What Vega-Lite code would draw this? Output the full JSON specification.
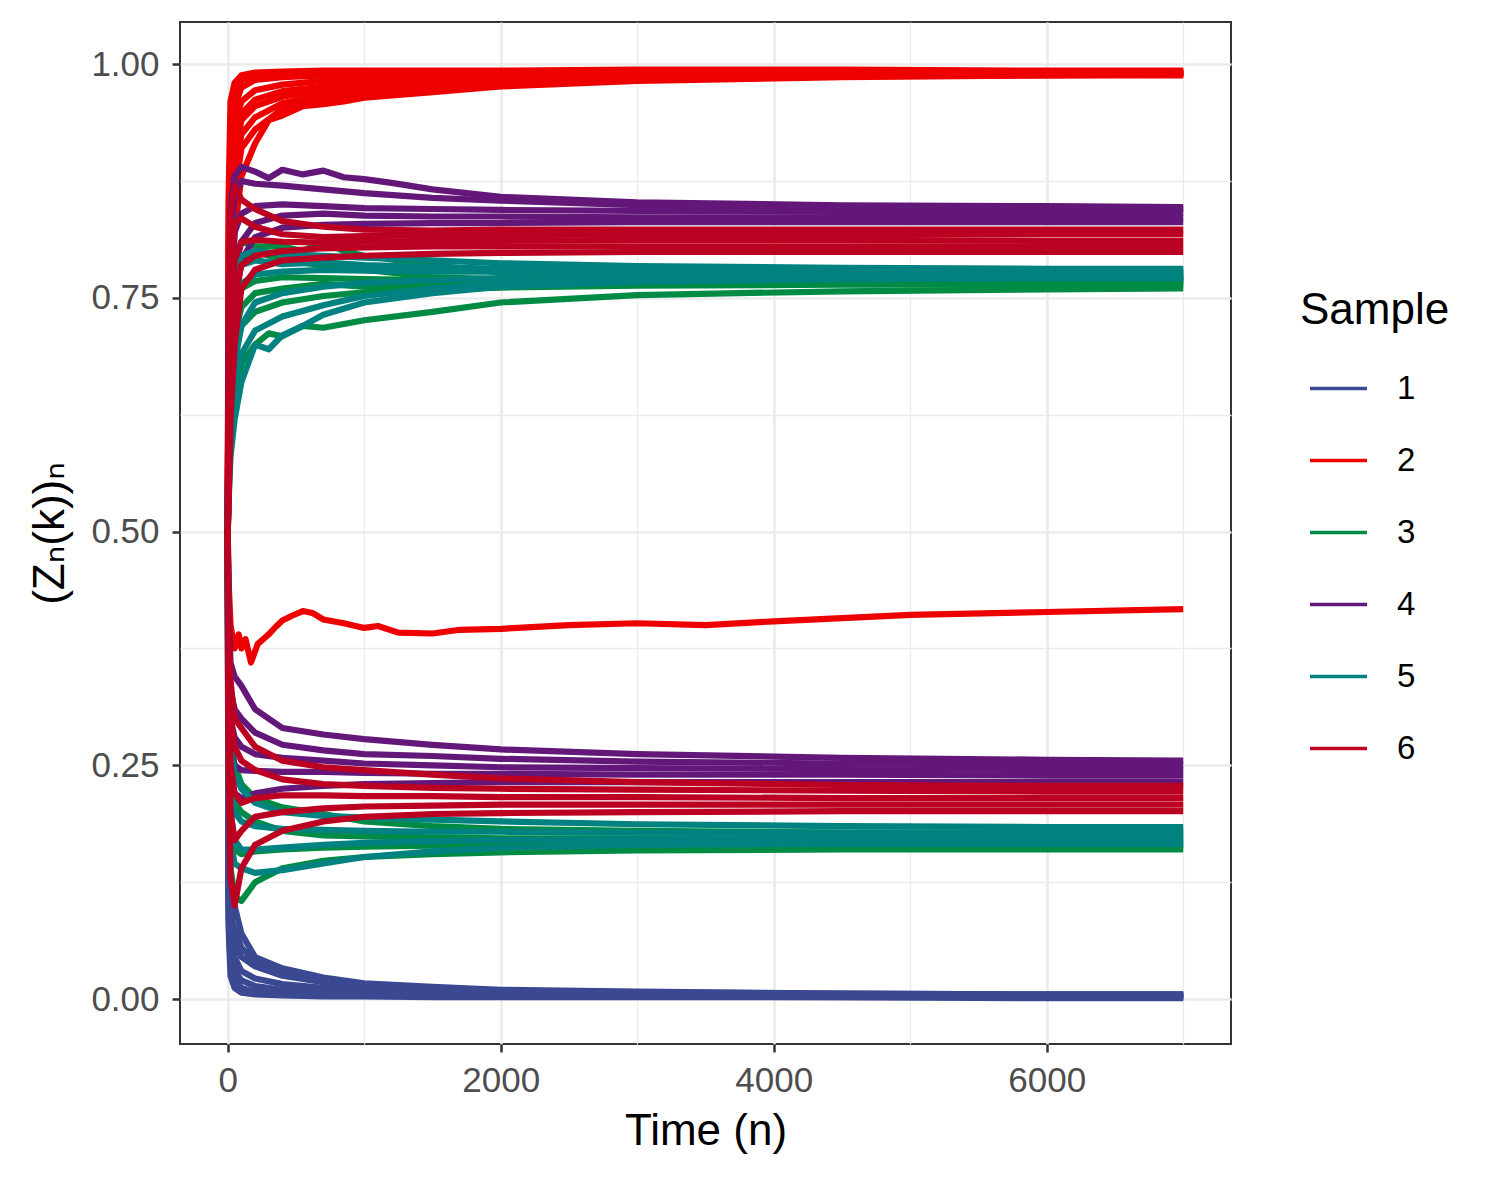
{
  "$schema": "https://vega.github.io/schema/vega-lite/v6.json",
  "width": 1051,
  "height": 1022,
  "autosize": {"type": "none"},
  "padding": {"left": 180, "top": 22, "right": 269, "bottom": 136},
  "background": "white",
  "config": {
    "font": "Liberation Sans, DejaVu Sans, sans-serif",
    "view": {"stroke": "#333333", "strokeWidth": 2}
  },
  "data": {
    "values": [
      {"s":"1","g":"b1","n":0,"z":0.5},{"s":"1","g":"b1","n":5,"z":0.2},{"s":"1","g":"b1","n":20,"z":0.1},{"s":"1","g":"b1","n":50,"z":0.06},{"s":"1","g":"b1","n":100,"z":0.045},{"s":"1","g":"b1","n":200,"z":0.035},{"s":"1","g":"b1","n":400,"z":0.025},{"s":"1","g":"b1","n":700,"z":0.018},{"s":"1","g":"b1","n":1000,"z":0.014},{"s":"1","g":"b1","n":1500,"z":0.011},{"s":"1","g":"b1","n":2000,"z":0.009},{"s":"1","g":"b1","n":3000,"z":0.007},{"s":"1","g":"b1","n":4500,"z":0.006},{"s":"1","g":"b1","n":6000,"z":0.005},{"s":"1","g":"b1","n":7000,"z":0.005},
      {"s":"1","g":"b2","n":0,"z":0.5},{"s":"1","g":"b2","n":5,"z":0.15},{"s":"1","g":"b2","n":20,"z":0.07},{"s":"1","g":"b2","n":50,"z":0.045},{"s":"1","g":"b2","n":100,"z":0.03},{"s":"1","g":"b2","n":200,"z":0.022},{"s":"1","g":"b2","n":400,"z":0.016},{"s":"1","g":"b2","n":700,"z":0.012},{"s":"1","g":"b2","n":1000,"z":0.01},{"s":"1","g":"b2","n":1500,"z":0.008},{"s":"1","g":"b2","n":2000,"z":0.007},{"s":"1","g":"b2","n":3000,"z":0.006},{"s":"1","g":"b2","n":4500,"z":0.005},{"s":"1","g":"b2","n":6000,"z":0.004},{"s":"1","g":"b2","n":7000,"z":0.004},
      {"s":"1","g":"b3","n":0,"z":0.5},{"s":"1","g":"b3","n":5,"z":0.12},{"s":"1","g":"b3","n":20,"z":0.05},{"s":"1","g":"b3","n":50,"z":0.03},{"s":"1","g":"b3","n":100,"z":0.02},{"s":"1","g":"b3","n":200,"z":0.014},{"s":"1","g":"b3","n":400,"z":0.01},{"s":"1","g":"b3","n":700,"z":0.008},{"s":"1","g":"b3","n":1000,"z":0.007},{"s":"1","g":"b3","n":1500,"z":0.006},{"s":"1","g":"b3","n":2000,"z":0.005},{"s":"1","g":"b3","n":3000,"z":0.004},{"s":"1","g":"b3","n":4500,"z":0.004},{"s":"1","g":"b3","n":6000,"z":0.003},{"s":"1","g":"b3","n":7000,"z":0.003},
      {"s":"1","g":"b4","n":0,"z":0.5},{"s":"1","g":"b4","n":5,"z":0.1},{"s":"1","g":"b4","n":20,"z":0.035},{"s":"1","g":"b4","n":50,"z":0.02},{"s":"1","g":"b4","n":100,"z":0.012},{"s":"1","g":"b4","n":200,"z":0.008},{"s":"1","g":"b4","n":400,"z":0.006},{"s":"1","g":"b4","n":700,"z":0.005},{"s":"1","g":"b4","n":1000,"z":0.004},{"s":"1","g":"b4","n":1500,"z":0.004},{"s":"1","g":"b4","n":2000,"z":0.003},{"s":"1","g":"b4","n":3000,"z":0.003},{"s":"1","g":"b4","n":4500,"z":0.002},{"s":"1","g":"b4","n":6000,"z":0.002},{"s":"1","g":"b4","n":7000,"z":0.002},
      {"s":"1","g":"b5","n":0,"z":0.5},{"s":"1","g":"b5","n":5,"z":0.08},{"s":"1","g":"b5","n":20,"z":0.025},{"s":"1","g":"b5","n":50,"z":0.012},{"s":"1","g":"b5","n":100,"z":0.007},{"s":"1","g":"b5","n":200,"z":0.005},{"s":"1","g":"b5","n":400,"z":0.004},{"s":"1","g":"b5","n":700,"z":0.003},{"s":"1","g":"b5","n":1000,"z":0.003},{"s":"1","g":"b5","n":1500,"z":0.002},{"s":"1","g":"b5","n":2000,"z":0.002},{"s":"1","g":"b5","n":3000,"z":0.002},{"s":"1","g":"b5","n":4500,"z":0.002},{"s":"1","g":"b5","n":6000,"z":0.001},{"s":"1","g":"b5","n":7000,"z":0.001},
      {"s":"1","g":"b6","n":0,"z":0.5},{"s":"1","g":"b6","n":5,"z":0.25},{"s":"1","g":"b6","n":20,"z":0.13},{"s":"1","g":"b6","n":50,"z":0.1},{"s":"1","g":"b6","n":100,"z":0.07},{"s":"1","g":"b6","n":200,"z":0.045},{"s":"1","g":"b6","n":400,"z":0.033},{"s":"1","g":"b6","n":700,"z":0.023},{"s":"1","g":"b6","n":1000,"z":0.017},{"s":"1","g":"b6","n":1500,"z":0.013},{"s":"1","g":"b6","n":2000,"z":0.01},{"s":"1","g":"b6","n":3000,"z":0.008},{"s":"1","g":"b6","n":4500,"z":0.006},{"s":"1","g":"b6","n":6000,"z":0.005},{"s":"1","g":"b6","n":7000,"z":0.005},
      {"s":"1","g":"b7","n":0,"z":0.5},{"s":"1","g":"b7","n":5,"z":0.18},{"s":"1","g":"b7","n":20,"z":0.085},{"s":"1","g":"b7","n":50,"z":0.075},{"s":"1","g":"b7","n":100,"z":0.055},{"s":"1","g":"b7","n":200,"z":0.04},{"s":"1","g":"b7","n":400,"z":0.028},{"s":"1","g":"b7","n":700,"z":0.02},{"s":"1","g":"b7","n":1000,"z":0.015},{"s":"1","g":"b7","n":1500,"z":0.012},{"s":"1","g":"b7","n":2000,"z":0.009},{"s":"1","g":"b7","n":3000,"z":0.007},{"s":"1","g":"b7","n":4500,"z":0.005},{"s":"1","g":"b7","n":6000,"z":0.004},{"s":"1","g":"b7","n":7000,"z":0.004},

      {"s":"2","g":"r1","n":0,"z":0.5},{"s":"2","g":"r1","n":5,"z":0.85},{"s":"2","g":"r1","n":20,"z":0.96},{"s":"2","g":"r1","n":50,"z":0.98},{"s":"2","g":"r1","n":100,"z":0.988},{"s":"2","g":"r1","n":200,"z":0.991},{"s":"2","g":"r1","n":400,"z":0.992},{"s":"2","g":"r1","n":700,"z":0.993},{"s":"2","g":"r1","n":1000,"z":0.993},{"s":"2","g":"r1","n":1500,"z":0.993},{"s":"2","g":"r1","n":2000,"z":0.993},{"s":"2","g":"r1","n":3000,"z":0.994},{"s":"2","g":"r1","n":4500,"z":0.994},{"s":"2","g":"r1","n":6000,"z":0.993},{"s":"2","g":"r1","n":7000,"z":0.993},
      {"s":"2","g":"r2","n":0,"z":0.5},{"s":"2","g":"r2","n":5,"z":0.8},{"s":"2","g":"r2","n":20,"z":0.93},{"s":"2","g":"r2","n":50,"z":0.97},{"s":"2","g":"r2","n":100,"z":0.983},{"s":"2","g":"r2","n":200,"z":0.988},{"s":"2","g":"r2","n":400,"z":0.99},{"s":"2","g":"r2","n":700,"z":0.991},{"s":"2","g":"r2","n":1000,"z":0.991},{"s":"2","g":"r2","n":1500,"z":0.992},{"s":"2","g":"r2","n":2000,"z":0.992},{"s":"2","g":"r2","n":3000,"z":0.992},{"s":"2","g":"r2","n":4500,"z":0.992},{"s":"2","g":"r2","n":6000,"z":0.992},{"s":"2","g":"r2","n":7000,"z":0.992},
      {"s":"2","g":"r3","n":0,"z":0.5},{"s":"2","g":"r3","n":5,"z":0.75},{"s":"2","g":"r3","n":20,"z":0.9},{"s":"2","g":"r3","n":50,"z":0.955},{"s":"2","g":"r3","n":100,"z":0.975},{"s":"2","g":"r3","n":200,"z":0.983},{"s":"2","g":"r3","n":400,"z":0.986},{"s":"2","g":"r3","n":700,"z":0.988},{"s":"2","g":"r3","n":1000,"z":0.989},{"s":"2","g":"r3","n":1500,"z":0.99},{"s":"2","g":"r3","n":2000,"z":0.99},{"s":"2","g":"r3","n":3000,"z":0.991},{"s":"2","g":"r3","n":4500,"z":0.991},{"s":"2","g":"r3","n":6000,"z":0.991},{"s":"2","g":"r3","n":7000,"z":0.991},
      {"s":"2","g":"r4","n":0,"z":0.5},{"s":"2","g":"r4","n":5,"z":0.7},{"s":"2","g":"r4","n":20,"z":0.86},{"s":"2","g":"r4","n":50,"z":0.935},{"s":"2","g":"r4","n":100,"z":0.96},{"s":"2","g":"r4","n":200,"z":0.972},{"s":"2","g":"r4","n":400,"z":0.978},{"s":"2","g":"r4","n":700,"z":0.982},{"s":"2","g":"r4","n":1000,"z":0.984},{"s":"2","g":"r4","n":1500,"z":0.986},{"s":"2","g":"r4","n":2000,"z":0.987},{"s":"2","g":"r4","n":3000,"z":0.989},{"s":"2","g":"r4","n":4500,"z":0.99},{"s":"2","g":"r4","n":6000,"z":0.99},{"s":"2","g":"r4","n":7000,"z":0.99},
      {"s":"2","g":"r10","n":0,"z":0.5},{"s":"2","g":"r10","n":5,"z":0.72},{"s":"2","g":"r10","n":20,"z":0.84},{"s":"2","g":"r10","n":50,"z":0.91},{"s":"2","g":"r10","n":100,"z":0.947},{"s":"2","g":"r10","n":200,"z":0.962},{"s":"2","g":"r10","n":400,"z":0.971},{"s":"2","g":"r10","n":700,"z":0.976},{"s":"2","g":"r10","n":1000,"z":0.98},{"s":"2","g":"r10","n":1500,"z":0.983},{"s":"2","g":"r10","n":2000,"z":0.985},{"s":"2","g":"r10","n":3000,"z":0.988},{"s":"2","g":"r10","n":4500,"z":0.99},{"s":"2","g":"r10","n":6000,"z":0.99},{"s":"2","g":"r10","n":7000,"z":0.99},
      {"s":"2","g":"r5","n":0,"z":0.5},{"s":"2","g":"r5","n":5,"z":0.65},{"s":"2","g":"r5","n":20,"z":0.82},{"s":"2","g":"r5","n":50,"z":0.9},{"s":"2","g":"r5","n":100,"z":0.94},{"s":"2","g":"r5","n":200,"z":0.955},{"s":"2","g":"r5","n":400,"z":0.965},{"s":"2","g":"r5","n":700,"z":0.972},{"s":"2","g":"r5","n":1000,"z":0.976},{"s":"2","g":"r5","n":1500,"z":0.98},{"s":"2","g":"r5","n":2000,"z":0.983},{"s":"2","g":"r5","n":3000,"z":0.986},{"s":"2","g":"r5","n":4500,"z":0.988},{"s":"2","g":"r5","n":6000,"z":0.989},{"s":"2","g":"r5","n":7000,"z":0.989},
      {"s":"2","g":"r6","n":0,"z":0.5},{"s":"2","g":"r6","n":5,"z":0.6},{"s":"2","g":"r6","n":20,"z":0.76},{"s":"2","g":"r6","n":50,"z":0.86},{"s":"2","g":"r6","n":100,"z":0.91},{"s":"2","g":"r6","n":200,"z":0.93},{"s":"2","g":"r6","n":400,"z":0.952},{"s":"2","g":"r6","n":700,"z":0.962},{"s":"2","g":"r6","n":1000,"z":0.967},{"s":"2","g":"r6","n":1500,"z":0.973},{"s":"2","g":"r6","n":2000,"z":0.978},{"s":"2","g":"r6","n":3000,"z":0.983},{"s":"2","g":"r6","n":4500,"z":0.987},{"s":"2","g":"r6","n":6000,"z":0.988},{"s":"2","g":"r6","n":7000,"z":0.988},
      {"s":"2","g":"r7","n":0,"z":0.5},{"s":"2","g":"r7","n":5,"z":0.62},{"s":"2","g":"r7","n":20,"z":0.72},{"s":"2","g":"r7","n":50,"z":0.82},{"s":"2","g":"r7","n":100,"z":0.88},{"s":"2","g":"r7","n":200,"z":0.915},{"s":"2","g":"r7","n":300,"z":0.94},{"s":"2","g":"r7","n":400,"z":0.945},{"s":"2","g":"r7","n":550,"z":0.955},{"s":"2","g":"r7","n":700,"z":0.957},{"s":"2","g":"r7","n":850,"z":0.96},{"s":"2","g":"r7","n":1000,"z":0.964},{"s":"2","g":"r7","n":1500,"z":0.97},{"s":"2","g":"r7","n":2000,"z":0.976},{"s":"2","g":"r7","n":3000,"z":0.982},{"s":"2","g":"r7","n":4500,"z":0.986},{"s":"2","g":"r7","n":6000,"z":0.988},{"s":"2","g":"r7","n":7000,"z":0.989},
      {"s":"2","g":"r9","n":0,"z":0.5},{"s":"2","g":"r9","n":5,"z":0.68},{"s":"2","g":"r9","n":20,"z":0.8},{"s":"2","g":"r9","n":50,"z":0.88},{"s":"2","g":"r9","n":100,"z":0.925},{"s":"2","g":"r9","n":200,"z":0.943},{"s":"2","g":"r9","n":400,"z":0.958},{"s":"2","g":"r9","n":700,"z":0.967},{"s":"2","g":"r9","n":1000,"z":0.971},{"s":"2","g":"r9","n":1500,"z":0.977},{"s":"2","g":"r9","n":2000,"z":0.98},{"s":"2","g":"r9","n":3000,"z":0.985},{"s":"2","g":"r9","n":4500,"z":0.988},{"s":"2","g":"r9","n":6000,"z":0.989},{"s":"2","g":"r9","n":7000,"z":0.99},
      {"s":"2","g":"r8","n":0,"z":0.5},{"s":"2","g":"r8","n":5,"z":0.45},{"s":"2","g":"r8","n":20,"z":0.4},{"s":"2","g":"r8","n":50,"z":0.375},{"s":"2","g":"r8","n":80,"z":0.39},{"s":"2","g":"r8","n":100,"z":0.375},{"s":"2","g":"r8","n":130,"z":0.385},{"s":"2","g":"r8","n":170,"z":0.36},{"s":"2","g":"r8","n":220,"z":0.38},{"s":"2","g":"r8","n":300,"z":0.39},{"s":"2","g":"r8","n":350,"z":0.398},{"s":"2","g":"r8","n":400,"z":0.405},{"s":"2","g":"r8","n":470,"z":0.41},{"s":"2","g":"r8","n":550,"z":0.415},{"s":"2","g":"r8","n":620,"z":0.413},{"s":"2","g":"r8","n":700,"z":0.406},{"s":"2","g":"r8","n":850,"z":0.402},{"s":"2","g":"r8","n":1000,"z":0.397},{"s":"2","g":"r8","n":1100,"z":0.399},{"s":"2","g":"r8","n":1250,"z":0.392},{"s":"2","g":"r8","n":1500,"z":0.391},{"s":"2","g":"r8","n":1700,"z":0.395},{"s":"2","g":"r8","n":2000,"z":0.396},{"s":"2","g":"r8","n":2500,"z":0.4},{"s":"2","g":"r8","n":3000,"z":0.402},{"s":"2","g":"r8","n":3500,"z":0.4},{"s":"2","g":"r8","n":4000,"z":0.404},{"s":"2","g":"r8","n":5000,"z":0.411},{"s":"2","g":"r8","n":6000,"z":0.414},{"s":"2","g":"r8","n":7000,"z":0.417},

      {"s":"3","g":"g1","n":0,"z":0.5},{"s":"3","g":"g1","n":5,"z":0.63},{"s":"3","g":"g1","n":20,"z":0.75},{"s":"3","g":"g1","n":50,"z":0.79},{"s":"3","g":"g1","n":100,"z":0.81},{"s":"3","g":"g1","n":200,"z":0.805},{"s":"3","g":"g1","n":400,"z":0.805},{"s":"3","g":"g1","n":550,"z":0.8},{"s":"3","g":"g1","n":700,"z":0.81},{"s":"3","g":"g1","n":850,"z":0.8},{"s":"3","g":"g1","n":1000,"z":0.795},{"s":"3","g":"g1","n":1500,"z":0.785},{"s":"3","g":"g1","n":2000,"z":0.777},{"s":"3","g":"g1","n":3000,"z":0.773},{"s":"3","g":"g1","n":4500,"z":0.772},{"s":"3","g":"g1","n":6000,"z":0.772},{"s":"3","g":"g1","n":7000,"z":0.772},
      {"s":"3","g":"g6","n":0,"z":0.5},{"s":"3","g":"g6","n":5,"z":0.6},{"s":"3","g":"g6","n":20,"z":0.72},{"s":"3","g":"g6","n":50,"z":0.77},{"s":"3","g":"g6","n":100,"z":0.79},{"s":"3","g":"g6","n":200,"z":0.8},{"s":"3","g":"g6","n":400,"z":0.79},{"s":"3","g":"g6","n":700,"z":0.785},{"s":"3","g":"g6","n":1000,"z":0.78},{"s":"3","g":"g6","n":1500,"z":0.772},{"s":"3","g":"g6","n":2000,"z":0.77},{"s":"3","g":"g6","n":3000,"z":0.769},{"s":"3","g":"g6","n":4500,"z":0.769},{"s":"3","g":"g6","n":6000,"z":0.769},{"s":"3","g":"g6","n":7000,"z":0.769},
      {"s":"3","g":"g2","n":0,"z":0.5},{"s":"3","g":"g2","n":5,"z":0.59},{"s":"3","g":"g2","n":20,"z":0.69},{"s":"3","g":"g2","n":50,"z":0.74},{"s":"3","g":"g2","n":100,"z":0.76},{"s":"3","g":"g2","n":200,"z":0.768},{"s":"3","g":"g2","n":400,"z":0.772},{"s":"3","g":"g2","n":700,"z":0.771},{"s":"3","g":"g2","n":1000,"z":0.77},{"s":"3","g":"g2","n":1500,"z":0.769},{"s":"3","g":"g2","n":2000,"z":0.768},{"s":"3","g":"g2","n":3000,"z":0.768},{"s":"3","g":"g2","n":4500,"z":0.768},{"s":"3","g":"g2","n":6000,"z":0.768},{"s":"3","g":"g2","n":7000,"z":0.768},
      {"s":"3","g":"g5","n":0,"z":0.5},{"s":"3","g":"g5","n":5,"z":0.57},{"s":"3","g":"g5","n":20,"z":0.66},{"s":"3","g":"g5","n":50,"z":0.71},{"s":"3","g":"g5","n":100,"z":0.74},{"s":"3","g":"g5","n":200,"z":0.755},{"s":"3","g":"g5","n":400,"z":0.76},{"s":"3","g":"g5","n":700,"z":0.765},{"s":"3","g":"g5","n":1000,"z":0.762},{"s":"3","g":"g5","n":1500,"z":0.764},{"s":"3","g":"g5","n":2000,"z":0.765},{"s":"3","g":"g5","n":3000,"z":0.766},{"s":"3","g":"g5","n":4500,"z":0.766},{"s":"3","g":"g5","n":6000,"z":0.766},{"s":"3","g":"g5","n":7000,"z":0.766},
      {"s":"3","g":"g3","n":0,"z":0.5},{"s":"3","g":"g3","n":5,"z":0.56},{"s":"3","g":"g3","n":20,"z":0.64},{"s":"3","g":"g3","n":50,"z":0.69},{"s":"3","g":"g3","n":100,"z":0.72},{"s":"3","g":"g3","n":200,"z":0.735},{"s":"3","g":"g3","n":400,"z":0.745},{"s":"3","g":"g3","n":700,"z":0.752},{"s":"3","g":"g3","n":1000,"z":0.756},{"s":"3","g":"g3","n":1500,"z":0.759},{"s":"3","g":"g3","n":2000,"z":0.761},{"s":"3","g":"g3","n":3000,"z":0.763},{"s":"3","g":"g3","n":4500,"z":0.764},{"s":"3","g":"g3","n":6000,"z":0.764},{"s":"3","g":"g3","n":7000,"z":0.764},
      {"s":"3","g":"g4","n":0,"z":0.5},{"s":"3","g":"g4","n":5,"z":0.54},{"s":"3","g":"g4","n":20,"z":0.6},{"s":"3","g":"g4","n":50,"z":0.64},{"s":"3","g":"g4","n":100,"z":0.68},{"s":"3","g":"g4","n":200,"z":0.7},{"s":"3","g":"g4","n":300,"z":0.712},{"s":"3","g":"g4","n":400,"z":0.709},{"s":"3","g":"g4","n":550,"z":0.72},{"s":"3","g":"g4","n":700,"z":0.718},{"s":"3","g":"g4","n":850,"z":0.722},{"s":"3","g":"g4","n":1000,"z":0.726},{"s":"3","g":"g4","n":1500,"z":0.735},{"s":"3","g":"g4","n":2000,"z":0.745},{"s":"3","g":"g4","n":3000,"z":0.753},{"s":"3","g":"g4","n":4500,"z":0.757},{"s":"3","g":"g4","n":6000,"z":0.759},{"s":"3","g":"g4","n":7000,"z":0.76},
      {"s":"3","g":"v1","n":0,"z":0.5},{"s":"3","g":"v1","n":5,"z":0.38},{"s":"3","g":"v1","n":20,"z":0.28},{"s":"3","g":"v1","n":50,"z":0.25},{"s":"3","g":"v1","n":100,"z":0.23},{"s":"3","g":"v1","n":200,"z":0.215},{"s":"3","g":"v1","n":400,"z":0.205},{"s":"3","g":"v1","n":700,"z":0.198},{"s":"3","g":"v1","n":1000,"z":0.19},{"s":"3","g":"v1","n":1500,"z":0.185},{"s":"3","g":"v1","n":2000,"z":0.182},{"s":"3","g":"v1","n":3000,"z":0.18},{"s":"3","g":"v1","n":4500,"z":0.178},{"s":"3","g":"v1","n":6000,"z":0.178},{"s":"3","g":"v1","n":7000,"z":0.178},
      {"s":"3","g":"v2","n":0,"z":0.5},{"s":"3","g":"v2","n":5,"z":0.33},{"s":"3","g":"v2","n":20,"z":0.24},{"s":"3","g":"v2","n":50,"z":0.21},{"s":"3","g":"v2","n":100,"z":0.2},{"s":"3","g":"v2","n":200,"z":0.19},{"s":"3","g":"v2","n":400,"z":0.18},{"s":"3","g":"v2","n":700,"z":0.175},{"s":"3","g":"v2","n":1000,"z":0.174},{"s":"3","g":"v2","n":1500,"z":0.173},{"s":"3","g":"v2","n":2000,"z":0.172},{"s":"3","g":"v2","n":3000,"z":0.172},{"s":"3","g":"v2","n":4500,"z":0.172},{"s":"3","g":"v2","n":6000,"z":0.171},{"s":"3","g":"v2","n":7000,"z":0.171},
      {"s":"3","g":"v3","n":0,"z":0.5},{"s":"3","g":"v3","n":5,"z":0.28},{"s":"3","g":"v3","n":20,"z":0.19},{"s":"3","g":"v3","n":50,"z":0.16},{"s":"3","g":"v3","n":100,"z":0.155},{"s":"3","g":"v3","n":200,"z":0.158},{"s":"3","g":"v3","n":400,"z":0.16},{"s":"3","g":"v3","n":700,"z":0.162},{"s":"3","g":"v3","n":1000,"z":0.163},{"s":"3","g":"v3","n":1500,"z":0.164},{"s":"3","g":"v3","n":2000,"z":0.165},{"s":"3","g":"v3","n":3000,"z":0.166},{"s":"3","g":"v3","n":4500,"z":0.166},{"s":"3","g":"v3","n":6000,"z":0.165},{"s":"3","g":"v3","n":7000,"z":0.165},
      {"s":"3","g":"v4","n":0,"z":0.5},{"s":"3","g":"v4","n":5,"z":0.24},{"s":"3","g":"v4","n":20,"z":0.14},{"s":"3","g":"v4","n":50,"z":0.11},{"s":"3","g":"v4","n":100,"z":0.105},{"s":"3","g":"v4","n":200,"z":0.125},{"s":"3","g":"v4","n":400,"z":0.14},{"s":"3","g":"v4","n":700,"z":0.148},{"s":"3","g":"v4","n":1000,"z":0.152},{"s":"3","g":"v4","n":1500,"z":0.155},{"s":"3","g":"v4","n":2000,"z":0.157},{"s":"3","g":"v4","n":3000,"z":0.159},{"s":"3","g":"v4","n":4500,"z":0.16},{"s":"3","g":"v4","n":6000,"z":0.16},{"s":"3","g":"v4","n":7000,"z":0.16},

      {"s":"4","g":"p1","n":0,"z":0.5},{"s":"4","g":"p1","n":5,"z":0.7},{"s":"4","g":"p1","n":20,"z":0.85},{"s":"4","g":"p1","n":50,"z":0.88},{"s":"4","g":"p1","n":100,"z":0.89},{"s":"4","g":"p1","n":200,"z":0.885},{"s":"4","g":"p1","n":300,"z":0.878},{"s":"4","g":"p1","n":400,"z":0.887},{"s":"4","g":"p1","n":550,"z":0.882},{"s":"4","g":"p1","n":700,"z":0.886},{"s":"4","g":"p1","n":850,"z":0.879},{"s":"4","g":"p1","n":1000,"z":0.877},{"s":"4","g":"p1","n":1200,"z":0.873},{"s":"4","g":"p1","n":1500,"z":0.866},{"s":"4","g":"p1","n":2000,"z":0.858},{"s":"4","g":"p1","n":3000,"z":0.852},{"s":"4","g":"p1","n":4500,"z":0.849},{"s":"4","g":"p1","n":6000,"z":0.848},{"s":"4","g":"p1","n":7000,"z":0.847},
      {"s":"4","g":"p2","n":0,"z":0.5},{"s":"4","g":"p2","n":5,"z":0.65},{"s":"4","g":"p2","n":20,"z":0.8},{"s":"4","g":"p2","n":50,"z":0.86},{"s":"4","g":"p2","n":100,"z":0.875},{"s":"4","g":"p2","n":200,"z":0.872},{"s":"4","g":"p2","n":400,"z":0.87},{"s":"4","g":"p2","n":700,"z":0.866},{"s":"4","g":"p2","n":1000,"z":0.862},{"s":"4","g":"p2","n":1500,"z":0.857},{"s":"4","g":"p2","n":2000,"z":0.854},{"s":"4","g":"p2","n":3000,"z":0.849},{"s":"4","g":"p2","n":4500,"z":0.846},{"s":"4","g":"p2","n":6000,"z":0.845},{"s":"4","g":"p2","n":7000,"z":0.845},
      {"s":"4","g":"p3","n":0,"z":0.5},{"s":"4","g":"p3","n":5,"z":0.6},{"s":"4","g":"p3","n":20,"z":0.75},{"s":"4","g":"p3","n":50,"z":0.82},{"s":"4","g":"p3","n":100,"z":0.84},{"s":"4","g":"p3","n":200,"z":0.848},{"s":"4","g":"p3","n":400,"z":0.85},{"s":"4","g":"p3","n":700,"z":0.848},{"s":"4","g":"p3","n":1000,"z":0.846},{"s":"4","g":"p3","n":1500,"z":0.845},{"s":"4","g":"p3","n":2000,"z":0.844},{"s":"4","g":"p3","n":3000,"z":0.843},{"s":"4","g":"p3","n":4500,"z":0.842},{"s":"4","g":"p3","n":6000,"z":0.841},{"s":"4","g":"p3","n":7000,"z":0.841},
      {"s":"4","g":"p4","n":0,"z":0.5},{"s":"4","g":"p4","n":5,"z":0.58},{"s":"4","g":"p4","n":20,"z":0.7},{"s":"4","g":"p4","n":50,"z":0.78},{"s":"4","g":"p4","n":100,"z":0.81},{"s":"4","g":"p4","n":200,"z":0.83},{"s":"4","g":"p4","n":400,"z":0.838},{"s":"4","g":"p4","n":700,"z":0.84},{"s":"4","g":"p4","n":1000,"z":0.838},{"s":"4","g":"p4","n":1500,"z":0.837},{"s":"4","g":"p4","n":2000,"z":0.837},{"s":"4","g":"p4","n":3000,"z":0.836},{"s":"4","g":"p4","n":4500,"z":0.836},{"s":"4","g":"p4","n":6000,"z":0.836},{"s":"4","g":"p4","n":7000,"z":0.836},
      {"s":"4","g":"p5","n":0,"z":0.5},{"s":"4","g":"p5","n":5,"z":0.55},{"s":"4","g":"p5","n":20,"z":0.66},{"s":"4","g":"p5","n":50,"z":0.74},{"s":"4","g":"p5","n":100,"z":0.79},{"s":"4","g":"p5","n":200,"z":0.815},{"s":"4","g":"p5","n":400,"z":0.825},{"s":"4","g":"p5","n":700,"z":0.828},{"s":"4","g":"p5","n":1000,"z":0.829},{"s":"4","g":"p5","n":1500,"z":0.83},{"s":"4","g":"p5","n":2000,"z":0.83},{"s":"4","g":"p5","n":3000,"z":0.831},{"s":"4","g":"p5","n":4500,"z":0.831},{"s":"4","g":"p5","n":6000,"z":0.831},{"s":"4","g":"p5","n":7000,"z":0.831},
      {"s":"4","g":"q1","n":0,"z":0.5},{"s":"4","g":"q1","n":5,"z":0.42},{"s":"4","g":"q1","n":20,"z":0.36},{"s":"4","g":"q1","n":50,"z":0.345},{"s":"4","g":"q1","n":100,"z":0.335},{"s":"4","g":"q1","n":200,"z":0.31},{"s":"4","g":"q1","n":400,"z":0.29},{"s":"4","g":"q1","n":700,"z":0.283},{"s":"4","g":"q1","n":1000,"z":0.278},{"s":"4","g":"q1","n":1500,"z":0.272},{"s":"4","g":"q1","n":2000,"z":0.267},{"s":"4","g":"q1","n":3000,"z":0.262},{"s":"4","g":"q1","n":4500,"z":0.258},{"s":"4","g":"q1","n":6000,"z":0.256},{"s":"4","g":"q1","n":7000,"z":0.255},
      {"s":"4","g":"q2","n":0,"z":0.5},{"s":"4","g":"q2","n":5,"z":0.4},{"s":"4","g":"q2","n":20,"z":0.33},{"s":"4","g":"q2","n":50,"z":0.31},{"s":"4","g":"q2","n":100,"z":0.3},{"s":"4","g":"q2","n":200,"z":0.285},{"s":"4","g":"q2","n":400,"z":0.272},{"s":"4","g":"q2","n":700,"z":0.266},{"s":"4","g":"q2","n":1000,"z":0.262},{"s":"4","g":"q2","n":1500,"z":0.26},{"s":"4","g":"q2","n":2000,"z":0.257},{"s":"4","g":"q2","n":3000,"z":0.254},{"s":"4","g":"q2","n":4500,"z":0.252},{"s":"4","g":"q2","n":6000,"z":0.251},{"s":"4","g":"q2","n":7000,"z":0.25},
      {"s":"4","g":"q3","n":0,"z":0.5},{"s":"4","g":"q3","n":5,"z":0.37},{"s":"4","g":"q3","n":20,"z":0.3},{"s":"4","g":"q3","n":50,"z":0.28},{"s":"4","g":"q3","n":100,"z":0.27},{"s":"4","g":"q3","n":200,"z":0.262},{"s":"4","g":"q3","n":400,"z":0.258},{"s":"4","g":"q3","n":700,"z":0.255},{"s":"4","g":"q3","n":1000,"z":0.252},{"s":"4","g":"q3","n":1500,"z":0.25},{"s":"4","g":"q3","n":2000,"z":0.248},{"s":"4","g":"q3","n":3000,"z":0.247},{"s":"4","g":"q3","n":4500,"z":0.246},{"s":"4","g":"q3","n":6000,"z":0.245},{"s":"4","g":"q3","n":7000,"z":0.245},
      {"s":"4","g":"q4","n":0,"z":0.5},{"s":"4","g":"q4","n":5,"z":0.35},{"s":"4","g":"q4","n":20,"z":0.27},{"s":"4","g":"q4","n":50,"z":0.25},{"s":"4","g":"q4","n":100,"z":0.245},{"s":"4","g":"q4","n":200,"z":0.244},{"s":"4","g":"q4","n":400,"z":0.243},{"s":"4","g":"q4","n":700,"z":0.243},{"s":"4","g":"q4","n":1000,"z":0.242},{"s":"4","g":"q4","n":1500,"z":0.241},{"s":"4","g":"q4","n":2000,"z":0.241},{"s":"4","g":"q4","n":3000,"z":0.24},{"s":"4","g":"q4","n":4500,"z":0.24},{"s":"4","g":"q4","n":6000,"z":0.239},{"s":"4","g":"q4","n":7000,"z":0.239},
      {"s":"4","g":"q5","n":0,"z":0.5},{"s":"4","g":"q5","n":5,"z":0.32},{"s":"4","g":"q5","n":20,"z":0.24},{"s":"4","g":"q5","n":50,"z":0.22},{"s":"4","g":"q5","n":100,"z":0.215},{"s":"4","g":"q5","n":200,"z":0.22},{"s":"4","g":"q5","n":400,"z":0.225},{"s":"4","g":"q5","n":700,"z":0.228},{"s":"4","g":"q5","n":1000,"z":0.23},{"s":"4","g":"q5","n":1500,"z":0.231},{"s":"4","g":"q5","n":2000,"z":0.232},{"s":"4","g":"q5","n":3000,"z":0.232},{"s":"4","g":"q5","n":4500,"z":0.232},{"s":"4","g":"q5","n":6000,"z":0.232},{"s":"4","g":"q5","n":7000,"z":0.232},

      {"s":"5","g":"t1","n":0,"z":0.5},{"s":"5","g":"t1","n":5,"z":0.62},{"s":"5","g":"t1","n":20,"z":0.74},{"s":"5","g":"t1","n":50,"z":0.78},{"s":"5","g":"t1","n":100,"z":0.795},{"s":"5","g":"t1","n":200,"z":0.8},{"s":"5","g":"t1","n":400,"z":0.797},{"s":"5","g":"t1","n":700,"z":0.795},{"s":"5","g":"t1","n":1000,"z":0.793},{"s":"5","g":"t1","n":1500,"z":0.79},{"s":"5","g":"t1","n":2000,"z":0.787},{"s":"5","g":"t1","n":3000,"z":0.784},{"s":"5","g":"t1","n":4500,"z":0.782},{"s":"5","g":"t1","n":6000,"z":0.781},{"s":"5","g":"t1","n":7000,"z":0.781},
      {"s":"5","g":"t5","n":0,"z":0.5},{"s":"5","g":"t5","n":5,"z":0.6},{"s":"5","g":"t5","n":20,"z":0.71},{"s":"5","g":"t5","n":50,"z":0.76},{"s":"5","g":"t5","n":100,"z":0.785},{"s":"5","g":"t5","n":200,"z":0.79},{"s":"5","g":"t5","n":400,"z":0.786},{"s":"5","g":"t5","n":700,"z":0.788},{"s":"5","g":"t5","n":1000,"z":0.785},{"s":"5","g":"t5","n":1500,"z":0.783},{"s":"5","g":"t5","n":2000,"z":0.781},{"s":"5","g":"t5","n":3000,"z":0.779},{"s":"5","g":"t5","n":4500,"z":0.778},{"s":"5","g":"t5","n":6000,"z":0.778},{"s":"5","g":"t5","n":7000,"z":0.778},
      {"s":"5","g":"t2","n":0,"z":0.5},{"s":"5","g":"t2","n":5,"z":0.58},{"s":"5","g":"t2","n":20,"z":0.68},{"s":"5","g":"t2","n":50,"z":0.74},{"s":"5","g":"t2","n":100,"z":0.765},{"s":"5","g":"t2","n":200,"z":0.775},{"s":"5","g":"t2","n":400,"z":0.778},{"s":"5","g":"t2","n":700,"z":0.78},{"s":"5","g":"t2","n":1000,"z":0.779},{"s":"5","g":"t2","n":1500,"z":0.778},{"s":"5","g":"t2","n":2000,"z":0.778},{"s":"5","g":"t2","n":3000,"z":0.778},{"s":"5","g":"t2","n":4500,"z":0.777},{"s":"5","g":"t2","n":6000,"z":0.777},{"s":"5","g":"t2","n":7000,"z":0.777},
      {"s":"5","g":"t3","n":0,"z":0.5},{"s":"5","g":"t3","n":5,"z":0.55},{"s":"5","g":"t3","n":20,"z":0.62},{"s":"5","g":"t3","n":50,"z":0.68},{"s":"5","g":"t3","n":100,"z":0.72},{"s":"5","g":"t3","n":200,"z":0.745},{"s":"5","g":"t3","n":400,"z":0.755},{"s":"5","g":"t3","n":700,"z":0.762},{"s":"5","g":"t3","n":1000,"z":0.766},{"s":"5","g":"t3","n":1500,"z":0.769},{"s":"5","g":"t3","n":2000,"z":0.771},{"s":"5","g":"t3","n":3000,"z":0.773},{"s":"5","g":"t3","n":4500,"z":0.774},{"s":"5","g":"t3","n":6000,"z":0.774},{"s":"5","g":"t3","n":7000,"z":0.774},
      {"s":"5","g":"t6","n":0,"z":0.5},{"s":"5","g":"t6","n":5,"z":0.54},{"s":"5","g":"t6","n":20,"z":0.6},{"s":"5","g":"t6","n":50,"z":0.66},{"s":"5","g":"t6","n":100,"z":0.69},{"s":"5","g":"t6","n":200,"z":0.715},{"s":"5","g":"t6","n":400,"z":0.73},{"s":"5","g":"t6","n":700,"z":0.742},{"s":"5","g":"t6","n":1000,"z":0.752},{"s":"5","g":"t6","n":1500,"z":0.76},{"s":"5","g":"t6","n":2000,"z":0.765},{"s":"5","g":"t6","n":3000,"z":0.769},{"s":"5","g":"t6","n":4500,"z":0.772},{"s":"5","g":"t6","n":6000,"z":0.773},{"s":"5","g":"t6","n":7000,"z":0.773},
      {"s":"5","g":"t4","n":0,"z":0.5},{"s":"5","g":"t4","n":5,"z":0.53},{"s":"5","g":"t4","n":20,"z":0.58},{"s":"5","g":"t4","n":50,"z":0.62},{"s":"5","g":"t4","n":100,"z":0.66},{"s":"5","g":"t4","n":200,"z":0.7},{"s":"5","g":"t4","n":300,"z":0.695},{"s":"5","g":"t4","n":400,"z":0.71},{"s":"5","g":"t4","n":550,"z":0.72},{"s":"5","g":"t4","n":700,"z":0.732},{"s":"5","g":"t4","n":1000,"z":0.745},{"s":"5","g":"t4","n":1500,"z":0.755},{"s":"5","g":"t4","n":2000,"z":0.762},{"s":"5","g":"t4","n":3000,"z":0.767},{"s":"5","g":"t4","n":4500,"z":0.77},{"s":"5","g":"t4","n":6000,"z":0.771},{"s":"5","g":"t4","n":7000,"z":0.771},
      {"s":"5","g":"u1","n":0,"z":0.5},{"s":"5","g":"u1","n":5,"z":0.36},{"s":"5","g":"u1","n":20,"z":0.27},{"s":"5","g":"u1","n":50,"z":0.24},{"s":"5","g":"u1","n":100,"z":0.225},{"s":"5","g":"u1","n":200,"z":0.21},{"s":"5","g":"u1","n":400,"z":0.2},{"s":"5","g":"u1","n":700,"z":0.196},{"s":"5","g":"u1","n":1000,"z":0.194},{"s":"5","g":"u1","n":1500,"z":0.192},{"s":"5","g":"u1","n":2000,"z":0.19},{"s":"5","g":"u1","n":3000,"z":0.187},{"s":"5","g":"u1","n":4500,"z":0.185},{"s":"5","g":"u1","n":6000,"z":0.184},{"s":"5","g":"u1","n":7000,"z":0.184},
      {"s":"5","g":"u2","n":0,"z":0.5},{"s":"5","g":"u2","n":5,"z":0.32},{"s":"5","g":"u2","n":20,"z":0.23},{"s":"5","g":"u2","n":50,"z":0.2},{"s":"5","g":"u2","n":100,"z":0.19},{"s":"5","g":"u2","n":200,"z":0.185},{"s":"5","g":"u2","n":400,"z":0.182},{"s":"5","g":"u2","n":700,"z":0.181},{"s":"5","g":"u2","n":1000,"z":0.18},{"s":"5","g":"u2","n":1500,"z":0.179},{"s":"5","g":"u2","n":2000,"z":0.179},{"s":"5","g":"u2","n":3000,"z":0.178},{"s":"5","g":"u2","n":4500,"z":0.178},{"s":"5","g":"u2","n":6000,"z":0.178},{"s":"5","g":"u2","n":7000,"z":0.178},
      {"s":"5","g":"u3","n":0,"z":0.5},{"s":"5","g":"u3","n":5,"z":0.29},{"s":"5","g":"u3","n":20,"z":0.2},{"s":"5","g":"u3","n":50,"z":0.17},{"s":"5","g":"u3","n":100,"z":0.16},{"s":"5","g":"u3","n":200,"z":0.16},{"s":"5","g":"u3","n":400,"z":0.162},{"s":"5","g":"u3","n":700,"z":0.165},{"s":"5","g":"u3","n":1000,"z":0.167},{"s":"5","g":"u3","n":1500,"z":0.169},{"s":"5","g":"u3","n":2000,"z":0.17},{"s":"5","g":"u3","n":3000,"z":0.171},{"s":"5","g":"u3","n":4500,"z":0.172},{"s":"5","g":"u3","n":6000,"z":0.172},{"s":"5","g":"u3","n":7000,"z":0.172},
      {"s":"5","g":"u4","n":0,"z":0.5},{"s":"5","g":"u4","n":5,"z":0.26},{"s":"5","g":"u4","n":20,"z":0.17},{"s":"5","g":"u4","n":50,"z":0.145},{"s":"5","g":"u4","n":100,"z":0.14},{"s":"5","g":"u4","n":200,"z":0.135},{"s":"5","g":"u4","n":400,"z":0.138},{"s":"5","g":"u4","n":700,"z":0.145},{"s":"5","g":"u4","n":1000,"z":0.152},{"s":"5","g":"u4","n":1500,"z":0.158},{"s":"5","g":"u4","n":2000,"z":0.162},{"s":"5","g":"u4","n":3000,"z":0.165},{"s":"5","g":"u4","n":4500,"z":0.166},{"s":"5","g":"u4","n":6000,"z":0.166},{"s":"5","g":"u4","n":7000,"z":0.166},

      {"s":"6","g":"c1","n":0,"z":0.5},{"s":"6","g":"c1","n":5,"z":0.68},{"s":"6","g":"c1","n":20,"z":0.84},{"s":"6","g":"c1","n":50,"z":0.87},{"s":"6","g":"c1","n":100,"z":0.855},{"s":"6","g":"c1","n":200,"z":0.845},{"s":"6","g":"c1","n":400,"z":0.832},{"s":"6","g":"c1","n":700,"z":0.826},{"s":"6","g":"c1","n":1000,"z":0.823},{"s":"6","g":"c1","n":1500,"z":0.822},{"s":"6","g":"c1","n":2000,"z":0.823},{"s":"6","g":"c1","n":3000,"z":0.823},{"s":"6","g":"c1","n":4500,"z":0.823},{"s":"6","g":"c1","n":6000,"z":0.823},{"s":"6","g":"c1","n":7000,"z":0.823},
      {"s":"6","g":"c2","n":0,"z":0.5},{"s":"6","g":"c2","n":5,"z":0.62},{"s":"6","g":"c2","n":20,"z":0.78},{"s":"6","g":"c2","n":50,"z":0.83},{"s":"6","g":"c2","n":100,"z":0.835},{"s":"6","g":"c2","n":200,"z":0.826},{"s":"6","g":"c2","n":400,"z":0.818},{"s":"6","g":"c2","n":700,"z":0.815},{"s":"6","g":"c2","n":1000,"z":0.816},{"s":"6","g":"c2","n":1500,"z":0.817},{"s":"6","g":"c2","n":2000,"z":0.817},{"s":"6","g":"c2","n":3000,"z":0.818},{"s":"6","g":"c2","n":4500,"z":0.818},{"s":"6","g":"c2","n":6000,"z":0.818},{"s":"6","g":"c2","n":7000,"z":0.818},
      {"s":"6","g":"c3","n":0,"z":0.5},{"s":"6","g":"c3","n":5,"z":0.58},{"s":"6","g":"c3","n":20,"z":0.72},{"s":"6","g":"c3","n":50,"z":0.79},{"s":"6","g":"c3","n":100,"z":0.81},{"s":"6","g":"c3","n":200,"z":0.812},{"s":"6","g":"c3","n":400,"z":0.81},{"s":"6","g":"c3","n":700,"z":0.809},{"s":"6","g":"c3","n":1000,"z":0.81},{"s":"6","g":"c3","n":1500,"z":0.811},{"s":"6","g":"c3","n":2000,"z":0.811},{"s":"6","g":"c3","n":3000,"z":0.812},{"s":"6","g":"c3","n":4500,"z":0.812},{"s":"6","g":"c3","n":6000,"z":0.811},{"s":"6","g":"c3","n":7000,"z":0.811},
      {"s":"6","g":"c4","n":0,"z":0.5},{"s":"6","g":"c4","n":5,"z":0.55},{"s":"6","g":"c4","n":20,"z":0.68},{"s":"6","g":"c4","n":50,"z":0.75},{"s":"6","g":"c4","n":100,"z":0.785},{"s":"6","g":"c4","n":200,"z":0.795},{"s":"6","g":"c4","n":400,"z":0.8},{"s":"6","g":"c4","n":700,"z":0.803},{"s":"6","g":"c4","n":1000,"z":0.804},{"s":"6","g":"c4","n":1500,"z":0.805},{"s":"6","g":"c4","n":2000,"z":0.805},{"s":"6","g":"c4","n":3000,"z":0.805},{"s":"6","g":"c4","n":4500,"z":0.805},{"s":"6","g":"c4","n":6000,"z":0.805},{"s":"6","g":"c4","n":7000,"z":0.805},
      {"s":"6","g":"c5","n":0,"z":0.5},{"s":"6","g":"c5","n":5,"z":0.52},{"s":"6","g":"c5","n":20,"z":0.62},{"s":"6","g":"c5","n":50,"z":0.7},{"s":"6","g":"c5","n":100,"z":0.76},{"s":"6","g":"c5","n":200,"z":0.78},{"s":"6","g":"c5","n":400,"z":0.79},{"s":"6","g":"c5","n":700,"z":0.793},{"s":"6","g":"c5","n":1000,"z":0.795},{"s":"6","g":"c5","n":1500,"z":0.797},{"s":"6","g":"c5","n":2000,"z":0.798},{"s":"6","g":"c5","n":3000,"z":0.799},{"s":"6","g":"c5","n":4500,"z":0.799},{"s":"6","g":"c5","n":6000,"z":0.799},{"s":"6","g":"c5","n":7000,"z":0.799},
      {"s":"6","g":"d1","n":0,"z":0.5},{"s":"6","g":"d1","n":5,"z":0.4},{"s":"6","g":"d1","n":20,"z":0.34},{"s":"6","g":"d1","n":50,"z":0.3},{"s":"6","g":"d1","n":100,"z":0.29},{"s":"6","g":"d1","n":200,"z":0.27},{"s":"6","g":"d1","n":400,"z":0.255},{"s":"6","g":"d1","n":700,"z":0.248},{"s":"6","g":"d1","n":1000,"z":0.245},{"s":"6","g":"d1","n":1500,"z":0.24},{"s":"6","g":"d1","n":2000,"z":0.236},{"s":"6","g":"d1","n":3000,"z":0.232},{"s":"6","g":"d1","n":4500,"z":0.229},{"s":"6","g":"d1","n":6000,"z":0.228},{"s":"6","g":"d1","n":7000,"z":0.228},
      {"s":"6","g":"d2","n":0,"z":0.5},{"s":"6","g":"d2","n":5,"z":0.36},{"s":"6","g":"d2","n":20,"z":0.3},{"s":"6","g":"d2","n":50,"z":0.27},{"s":"6","g":"d2","n":100,"z":0.255},{"s":"6","g":"d2","n":200,"z":0.245},{"s":"6","g":"d2","n":400,"z":0.235},{"s":"6","g":"d2","n":700,"z":0.23},{"s":"6","g":"d2","n":1000,"z":0.228},{"s":"6","g":"d2","n":1500,"z":0.226},{"s":"6","g":"d2","n":2000,"z":0.225},{"s":"6","g":"d2","n":3000,"z":0.224},{"s":"6","g":"d2","n":4500,"z":0.223},{"s":"6","g":"d2","n":6000,"z":0.222},{"s":"6","g":"d2","n":7000,"z":0.222},
      {"s":"6","g":"d3","n":0,"z":0.5},{"s":"6","g":"d3","n":5,"z":0.33},{"s":"6","g":"d3","n":20,"z":0.25},{"s":"6","g":"d3","n":50,"z":0.22},{"s":"6","g":"d3","n":100,"z":0.21},{"s":"6","g":"d3","n":200,"z":0.215},{"s":"6","g":"d3","n":400,"z":0.218},{"s":"6","g":"d3","n":700,"z":0.218},{"s":"6","g":"d3","n":1000,"z":0.217},{"s":"6","g":"d3","n":1500,"z":0.217},{"s":"6","g":"d3","n":2000,"z":0.216},{"s":"6","g":"d3","n":3000,"z":0.216},{"s":"6","g":"d3","n":4500,"z":0.215},{"s":"6","g":"d3","n":6000,"z":0.215},{"s":"6","g":"d3","n":7000,"z":0.215},
      {"s":"6","g":"d4","n":0,"z":0.5},{"s":"6","g":"d4","n":5,"z":0.3},{"s":"6","g":"d4","n":20,"z":0.2},{"s":"6","g":"d4","n":50,"z":0.17},{"s":"6","g":"d4","n":100,"z":0.18},{"s":"6","g":"d4","n":200,"z":0.195},{"s":"6","g":"d4","n":400,"z":0.2},{"s":"6","g":"d4","n":700,"z":0.204},{"s":"6","g":"d4","n":1000,"z":0.206},{"s":"6","g":"d4","n":1500,"z":0.207},{"s":"6","g":"d4","n":2000,"z":0.208},{"s":"6","g":"d4","n":3000,"z":0.208},{"s":"6","g":"d4","n":4500,"z":0.208},{"s":"6","g":"d4","n":6000,"z":0.208},{"s":"6","g":"d4","n":7000,"z":0.208},
      {"s":"6","g":"d5","n":0,"z":0.5},{"s":"6","g":"d5","n":5,"z":0.25},{"s":"6","g":"d5","n":20,"z":0.13},{"s":"6","g":"d5","n":50,"z":0.1},{"s":"6","g":"d5","n":100,"z":0.14},{"s":"6","g":"d5","n":200,"z":0.165},{"s":"6","g":"d5","n":400,"z":0.18},{"s":"6","g":"d5","n":700,"z":0.19},{"s":"6","g":"d5","n":1000,"z":0.195},{"s":"6","g":"d5","n":1500,"z":0.198},{"s":"6","g":"d5","n":2000,"z":0.199},{"s":"6","g":"d5","n":3000,"z":0.2},{"s":"6","g":"d5","n":4500,"z":0.201},{"s":"6","g":"d5","n":6000,"z":0.201},{"s":"6","g":"d5","n":7000,"z":0.201}
    ]
  },
  "mark": {"type": "line", "strokeWidth": 6.2, "strokeJoin": "round", "clip": true},
  "encoding": {
    "x": {
      "field": "n",
      "type": "quantitative",
      "title": "Time (n)",
      "scale": {"domain": [-350, 7350], "nice": false, "zero": false},
      "axis": {
        "values": [0, 1000, 2000, 3000, 4000, 5000, 6000, 7000],
        "labelExpr": "datum.value % 2000 == 0 ? datum.label : ''",
        "format": "d",
        "grid": true,
        "gridColor": "#EBEBEB",
        "gridWidth": {"condition": {"test": "datum.value % 2000 != 0", "value": 1.3}, "value": 2.6},
        "tickOpacity": {"condition": {"test": "datum.value % 2000 != 0", "value": 0}, "value": 1},
        "domain": false,
        "tickColor": "#333333",
        "tickWidth": 2.5,
        "tickSize": 8,
        "labelFontSize": 35,
        "labelColor": "#4D4D4D",
        "labelPadding": 11,
        "titleFontSize": 44,
        "titleFontWeight": "normal",
        "titleColor": "black",
        "titlePadding": 11
      }
    },
    "y": {
      "field": "z",
      "type": "quantitative",
      "title": "(Zₙ(k))ₙ",
      "scale": {"domain": [-0.048, 1.045], "nice": false, "zero": false},
      "axis": {
        "values": [0, 0.125, 0.25, 0.375, 0.5, 0.625, 0.75, 0.875, 1],
        "labelExpr": "datum.value * 4 % 1 == 0 ? format(datum.value, '.2f') : ''",
        "grid": true,
        "gridColor": "#EBEBEB",
        "gridWidth": {"condition": {"test": "datum.value * 4 % 1 != 0", "value": 1.3}, "value": 2.6},
        "tickOpacity": {"condition": {"test": "datum.value * 4 % 1 != 0", "value": 0}, "value": 1},
        "domain": false,
        "tickColor": "#333333",
        "tickWidth": 2.5,
        "tickSize": 8,
        "labelFontSize": 35,
        "labelColor": "#4D4D4D",
        "labelPadding": 13,
        "titleFontSize": 44,
        "titleFontWeight": "normal",
        "titleColor": "black",
        "titlePadding": 18
      }
    },
    "color": {
      "field": "s",
      "type": "nominal",
      "title": "Sample",
      "scale": {
        "domain": ["1", "2", "3", "4", "5", "6"],
        "range": ["#3B4992", "#EE0000", "#008B45", "#631879", "#008280", "#BB0021"]
      },
      "legend": {
        "orient": "none",
        "legendX": 1120,
        "legendY": 267,
        "padding": 0,
        "symbolType": "stroke",
        "symbolSize": 3249,
        "symbolStrokeWidth": 3.5,
        "symbolOffset": 8,
        "titleFontSize": 44,
        "titleFontWeight": "normal",
        "titleColor": "black",
        "titlePadding": 25,
        "labelFontSize": 33,
        "labelColor": "black",
        "labelOffset": 28,
        "rowPadding": 24
      }
    },
    "detail": {"field": "g"}
  }
}
